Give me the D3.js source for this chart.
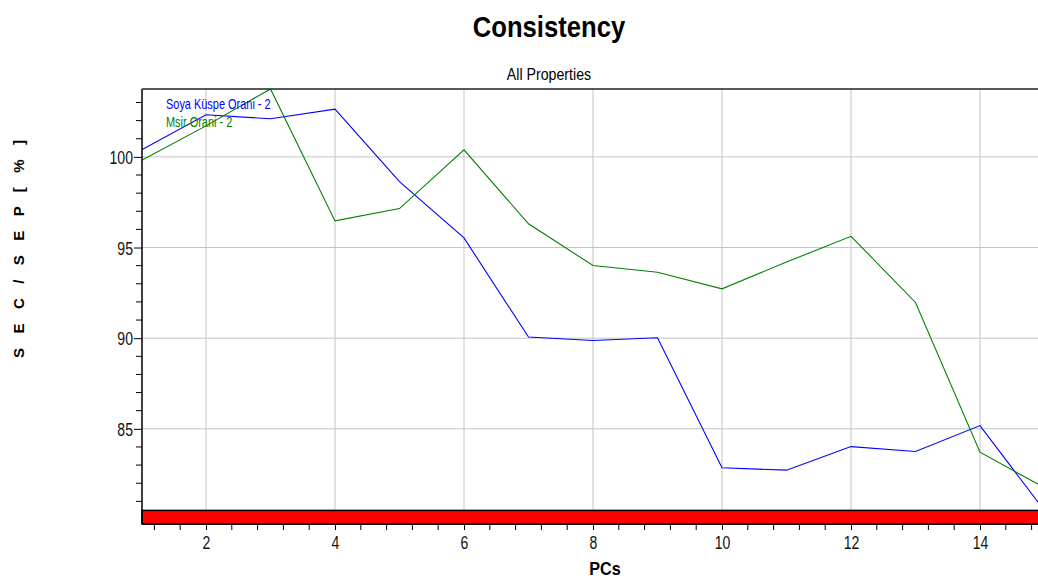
<!DOCTYPE html>
<html><head><meta charset="utf-8">
<script src="https://cdn.jsdelivr.net/npm/d3@7"></script>
<style>
html,body{margin:0;padding:0;background:#fff;overflow:hidden}
svg{display:block}
text{font-family:"Liberation Sans",Arial,sans-serif}
</style></head>
<body>
<svg id="chart" width="1038" height="579"></svg>
<script>
const pcs = [1,2,3,4,5,6,7,8,9,10,11,12,13,14,15];
const soyaValues = [100.39,102.32,102.10,102.63,98.64,95.53,90.06,89.87,90.02,82.85,82.72,84.02,83.75,85.18,80.48];
const msirValues = [99.80,101.71,103.75,96.47,97.15,100.39,96.31,94.01,93.64,92.72,94.2,95.62,91.97,83.71,81.75];
const seriesNames = ["Soya Küspe Orani - 2","Msir Orani - 2"];
const seriesColors = ["#0000ff","#008000"];
const yMajorTicks = [85,90,95,100];
const xMajorTicks = [2,4,6,8,10,12,14];
const titleText = "Consistency";
const subtitleText = "All Properties";
const xLabel = "PCs";
const yLabel = "S E C / S E P   [ % ]";
const redBandTop = 80.5;

const svg = d3.select("#chart");
const x = d3.scaleLinear().domain([1,15]).range([141.5,1044.5]);
const y = d3.scaleLinear().domain([79.75,103.75]).range([524,88.9]);
const pLeft = 142, pTop = 88.9, pBottom = 524, pRight = 1044.5;

// condensed text helper (no narrow font installed)
function narrowText(px, py, s, size, anchor, weight, fill){
  return svg.append("g").attr("transform",`translate(${px},${py}) scale(${s},1)`)
    .append("text").attr("x",0).attr("y",0).attr("text-anchor",anchor)
    .attr("font-size",size).attr("font-weight",weight).attr("fill",fill);
}

// gridlines
const grid = svg.append("g");
grid.selectAll("line.v").data(xMajorTicks).join("line")
  .attr("x1",d=>x(d)).attr("x2",d=>x(d)).attr("y1",pTop).attr("y2",y(redBandTop))
  .attr("stroke","#c4c4c4").attr("stroke-width",1);
grid.selectAll("line.h").data(yMajorTicks).join("line")
  .attr("x1",pLeft).attr("x2",pRight).attr("y1",d=>y(d)).attr("y2",d=>y(d))
  .attr("stroke","#c4c4c4").attr("stroke-width",1);

// clip
svg.append("clipPath").attr("id","clip").append("rect")
  .attr("x",pLeft).attr("y",pTop).attr("width",pRight-pLeft).attr("height",pBottom-pTop);

const line = d3.line().x((d,i)=>x(pcs[i])).y(d=>y(d));
const plot = svg.append("g").attr("clip-path","url(#clip)");
[soyaValues, msirValues].forEach((vals,k)=>{
  plot.append("path").datum(vals).attr("d",line)
    .attr("fill","none").attr("stroke",seriesColors[k]).attr("stroke-width",1.1);
});

// red band
svg.append("rect").attr("x",pLeft).attr("y",y(redBandTop)).attr("width",pRight-pLeft)
  .attr("height",pBottom-y(redBandTop)).attr("fill","#ff0000")
  .attr("stroke","#000").attr("stroke-width",1.5);

const tickScale = 0.76;
// axes
const yAxis = d3.axisLeft(y).tickValues(yMajorTicks).tickSize(8).tickPadding(1).tickFormat(d3.format("d"));
const gy = svg.append("g").attr("transform",`translate(${pLeft},0)`).call(yAxis);
const yMinor = d3.range(81,104).filter(v=>!yMajorTicks.includes(v));
gy.selectAll("line.minor").data(yMinor).join("line").attr("class","minor")
  .attr("x1",-6).attr("x2",0).attr("y1",d=>y(d)).attr("y2",d=>y(d)).attr("stroke","#000");
gy.select(".domain").attr("d",`M0,${pTop}V${pBottom}`).attr("stroke-width",1.5);
gy.selectAll(".tick text").attr("font-size",18.5).attr("fill","#111").attr("dy","0.36em")
  .attr("x",-9/tickScale).attr("transform",`scale(${tickScale},1)`)
  .style("font-family","'Liberation Sans',Arial,sans-serif");

const xAxis = d3.axisBottom(x).tickValues(xMajorTicks).tickSize(6).tickPadding(6).tickFormat(d3.format("d"));
const gx = svg.append("g").attr("transform",`translate(0,${pBottom})`).call(xAxis);
const xMinor = d3.range(3,38).map(i=>+(i*0.4).toFixed(1)).filter(v=>!xMajorTicks.includes(v));
gx.selectAll("line.minor").data(xMinor).join("line").attr("class","minor")
  .attr("x1",d=>x(d)).attr("x2",d=>x(d)).attr("y1",0).attr("y2",6).attr("stroke","#000");
gx.select(".domain").attr("d",`M${pLeft},0H${pRight}`).attr("stroke-width",1.5);
gx.selectAll(".tick text").attr("font-size",18.5).attr("fill","#111")
  .attr("transform",`scale(${tickScale},1)`)
  .style("font-family","'Liberation Sans',Arial,sans-serif");

// top border
svg.append("line").attr("x1",pLeft).attr("x2",pRight).attr("y1",pTop).attr("y2",pTop)
  .attr("stroke","#222").attr("stroke-width",1.5);

// titles
narrowText(549,37,0.855,30,"middle","bold","#000").text(titleText);
narrowText(549,80,0.86,16.5,"middle","normal","#000").text(subtitleText);
narrowText(605,575,0.9,18,"middle","bold","#000").text(xLabel);
svg.append("text").attr("transform","translate(24,249) rotate(-90)").attr("text-anchor","middle")
  .attr("font-size",15).attr("font-weight","bold")
  .attr("textLength",218).attr("lengthAdjust","spacing").text(yLabel);

// legend
seriesNames.forEach((n,k)=>{
  narrowText(166,109+k*17.7,0.73,15,"start","normal",seriesColors[k]).text(n);
});
</script>
</body></html>
